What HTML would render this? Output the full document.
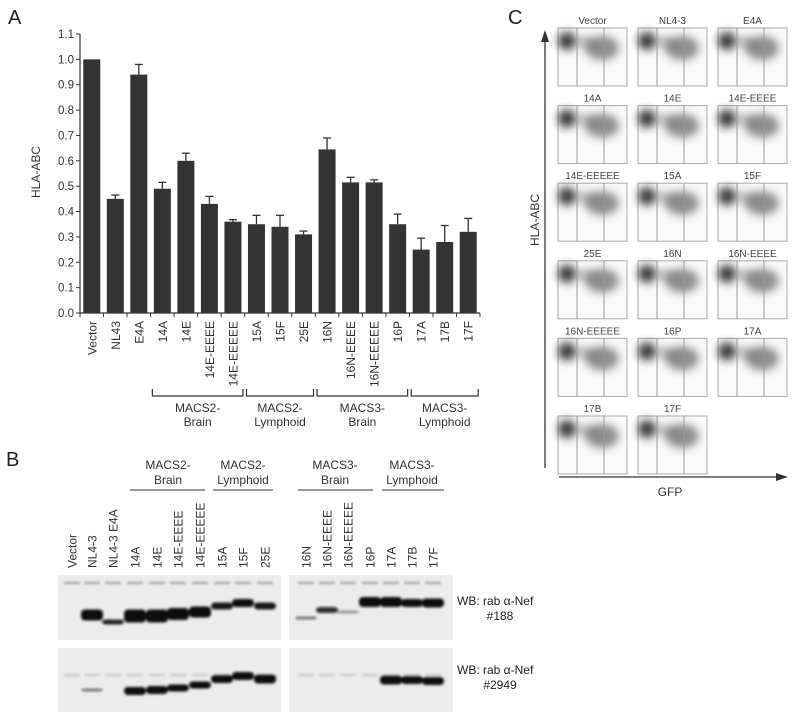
<!DOCTYPE html>
<html><head><meta charset="utf-8"><style>
html,body{margin:0;padding:0;background:#fff;}
svg{display:block;font-family:"Liberation Sans",sans-serif;}
</style></head><body>
<svg id="fig" width="800" height="720" viewBox="0 0 800 720" xmlns="http://www.w3.org/2000/svg">
<defs>
<filter id="blur1" x="-50%" y="-50%" width="200%" height="200%"><feGaussianBlur stdDeviation="1.4"/></filter>
<filter id="blur2" x="-50%" y="-50%" width="200%" height="200%"><feGaussianBlur stdDeviation="4.5"/></filter>
</defs>
<g id="panelA"></g>
<g id="panelB"></g>
<g id="panelC"></g>
</svg>
<script>
const categories=["Vector","NL43","E4A","14A","14E","14E-EEEE","14E-EEEEE","15A","15F","25E","16N","16N-EEEE","16N-EEEEE","16P","17A","17B","17F"];
const values=[1.0,0.45,0.94,0.49,0.60,0.43,0.36,0.35,0.34,0.31,0.645,0.515,0.515,0.35,0.25,0.28,0.32];
const errors=[0,0.015,0.04,0.025,0.03,0.03,0.008,0.035,0.045,0.013,0.045,0.02,0.01,0.04,0.045,0.065,0.053];
const yTicks=["0.0","0.1","0.2","0.3","0.4","0.5","0.6","0.7","0.8","0.9","1.0","1.1"];
const groups=[["MACS2-","Brain",3,6],["MACS2-","Lymphoid",7,9],["MACS3-","Brain",10,13],["MACS3-","Lymphoid",14,16]];
const NS="http://www.w3.org/2000/svg";
function mk(tag,attrs,parent,text){const e=document.createElementNS(NS,tag);for(const k in attrs)e.setAttribute(k,attrs[k]);if(text!==undefined)e.textContent=text;parent.appendChild(e);return e;}
// Panel A
const A=document.getElementById('panelA');
const x0=80,x1=480,y0=313,yTop=34,yMax=1.1;
const slot=(x1-x0)/categories.length;
const yS=v=>y0-(v/yMax)*(y0-yTop);
const xC=i=>x0+slot*(i+0.5);
let t=mk('text',{x:8,y:24,'font-size':20,fill:'#222'},A,'A');

t=mk('text',{transform:'translate(40,172) rotate(-90)','text-anchor':'middle','font-size':12,fill:'#333'},A,'HLA-ABC');

let ax=mk('line',{x1:x0,y1:yTop,x2:x0,y2:y0,stroke:'#333','stroke-width':1.2},A);

ax=mk('line',{x1:x0,y1:y0,x2:x1,y2:y0,stroke:'#333','stroke-width':1.2},A);

yTicks.forEach((lab)=>{const v=parseFloat(lab);const y=yS(v);
 mk('line',{x1:x0-4,y1:y,x2:x0,y2:y,stroke:'#333'},A);
 const tt=mk('text',{x:x0-6,y:y+4,'text-anchor':'end','font-size':11.5,fill:'#333'},A,lab);
 });
for(let i=0;i<=categories.length;i++){const x=x0+slot*i;mk('line',{x1:x,y1:y0,x2:x,y2:y0+4,stroke:'#333'},A);}
categories.forEach((c,i)=>{const cx=xC(i),w=17;
 const b=mk('rect',{x:cx-w/2,y:yS(values[i]),width:w,height:y0-yS(values[i]),fill:'#333'},A);
 
 if(errors[i]>0){const ye=yS(values[i]+errors[i]);
  mk('line',{x1:cx,y1:yS(values[i]),x2:cx,y2:ye,stroke:'#333','stroke-width':1.3},A);
  mk('line',{x1:cx-4,y1:ye,x2:cx+4,y2:ye,stroke:'#333','stroke-width':1.3},A);}
 const tl=mk('text',{transform:`translate(${cx+4.5},${y0+8}) rotate(-90)`,'text-anchor':'end','font-size':12,fill:'#333'},A,c);
 });
groups.forEach(g=>{const xa=xC(g[2])-10,xb=xC(g[3])+10,cx=(xa+xb)/2;
 const br=mk('path',{d:`M${xa},389 V396 H${xb} V389`,fill:'none',stroke:'#333','stroke-width':1.2},A);
 
 const l1=mk('text',{x:cx,y:412,'text-anchor':'middle','font-size':12,fill:'#333'},A,g[0]);
 
 mk('text',{x:cx,y:426,'text-anchor':'middle','font-size':12,fill:'#333'},A,g[1]);});
// Panel B
const B=document.getElementById('panelB');
t=mk('text',{x:6,y:466,'font-size':20,fill:'#222'},B,'B');

const lanes=[["Vector",72],["NL4-3",92],["NL4-3 E4A",113],["14A",135],["14E",157],["14E-EEEE",178],["14E-EEEEE",200],["15A",222],["15F",243],["25E",265],["16N",306],["16N-EEEE",327],["16N-EEEEE",348],["16P",370],["17A",391],["17B",412],["17F",433]];
lanes.forEach(l=>{const tl=mk('text',{transform:`translate(${l[1]+4.5},568) rotate(-90)`,'font-size':12,fill:'#333'},B,l[0]);
 });
[["MACS2-","Brain",168,130,205],["MACS2-","Lymphoid",243,213,273],["MACS3-","Brain",335,298,373],["MACS3-","Lymphoid",412,382,444]].forEach(g=>{
 const a=mk('text',{x:g[2],y:469,'text-anchor':'middle','font-size':12,fill:'#333'},B,g[0]);
 
 mk('text',{x:g[2],y:484,'text-anchor':'middle','font-size':12,fill:'#333'},B,g[1]);
 mk('line',{x1:g[3],y1:490,x2:g[4],y2:490,stroke:'#333'},B);});
const blots=[[58,575,223,65],[289,575,164,65],[58,648,223,64],[289,648,164,64]];
blots.forEach(b=>{const r=mk('rect',{x:b[0],y:b[1],width:b[2],height:b[3],fill:'#ececec'},B);
 });
const bands1=[[1,615,11,1],[2,622,5,0.9],[3,616,13,1],[4,616,13,1],[5,614,12,1],[6,612,11,1],[7,606,7,0.95],[8,603,8,1],[9,606,7,0.95],[10,618,3,0.5],[11,610,6,0.85],[12,612,3,0.35],[13,602,10,1],[14,602,10,1],[15,603,8,1],[16,603,9,1]];
const bands2=[[1,690,3,0.5],[3,691,8,1],[4,690,8,1],[5,688,7,1],[6,685,7,1],[7,679,8,1],[8,676,8,1],[9,679,9,1],[14,680,9,1],[15,680,8,1],[16,681,8,1]];
const g1=mk('g',{filter:'url(#blur1)'},B);
lanes.forEach((l,i)=>{mk('rect',{x:l[1]-8,y:582,width:16,height:2,fill:'#666',opacity:0.6},g1);
 mk('rect',{x:l[1]-8,y:674,width:16,height:2,fill:'#888',opacity:0.4},g1);});
bands1.concat(bands2).forEach(b=>{const x=lanes[b[0]][1];
 const e=mk('rect',{x:x-11,y:b[1]-b[2]/2,width:22,height:b[2],rx:4,fill:'#0a0a0a',opacity:b[3]},g1);
 });
[[605,"#188",620],[674,"#2949",689]].forEach(w=>{
 const a=mk('text',{x:457,y:w[0],'font-size':12,fill:'#222'},B,'WB: rab α-Nef');
 
 mk('text',{x:500,y:w[2],'text-anchor':'middle','font-size':12,fill:'#222'},B,w[1]);});
// Panel C
const C=document.getElementById('panelC');
t=mk('text',{x:508,y:24,'font-size':20,fill:'#222'},C,'C');

mk('line',{x1:545,y1:40,x2:545,y2:468,stroke:'#333','stroke-width':1.3},C);
mk('path',{d:'M541,42 L545,30 L549,42 Z',fill:'#333'},C);
mk('line',{x1:559,y1:477,x2:778,y2:477,stroke:'#333','stroke-width':1.3},C);
mk('path',{d:'M776,473 L788,477 L776,481 Z',fill:'#333'},C);
t=mk('text',{transform:'translate(539,220) rotate(-90)','text-anchor':'middle','font-size':12,fill:'#333'},C,'HLA-ABC');

t=mk('text',{x:670,y:496,'text-anchor':'middle','font-size':12,fill:'#333'},C,'GFP');

const flowNames=["Vector","NL4-3","E4A","14A","14E","14E-EEEE","14E-EEEEE","15A","15F","25E","16N","16N-EEEE","16N-EEEEE","16P","17A","17B","17F"];
const colX=[558,638,718],W=69,H=58;
flowNames.forEach((n,i)=>{const x=colX[i%3],y=28+Math.floor(i/3)*77.6;
 const g=mk('g',{},C);
 mk('text',{x:x+W/2,y:y-4,'text-anchor':'middle','font-size':10,fill:'#444'},g,n);
 mk('rect',{x:x,y:y,width:W,height:H,fill:'#fafafa',stroke:'#aaa','stroke-width':1},g);
 const gb=mk('g',{filter:'url(#blur2)'},g);
 mk('ellipse',{cx:x+9,cy:y+13,rx:9,ry:9,fill:'#222',opacity:0.9},gb);
 mk('ellipse',{cx:x+28,cy:y+14,rx:10,ry:6,fill:'#777',opacity:0.45},gb);
 mk('ellipse',{cx:x+44,cy:y+20,rx:17,ry:12,fill:'#444',opacity:0.6},gb);
 mk('line',{x1:x+19,y1:y,x2:x+19,y2:y+H,stroke:'#999'},g);
 mk('line',{x1:x+46,y1:y,x2:x+46,y2:y+H,stroke:'#999'},g);});
</script>
</body></html>
